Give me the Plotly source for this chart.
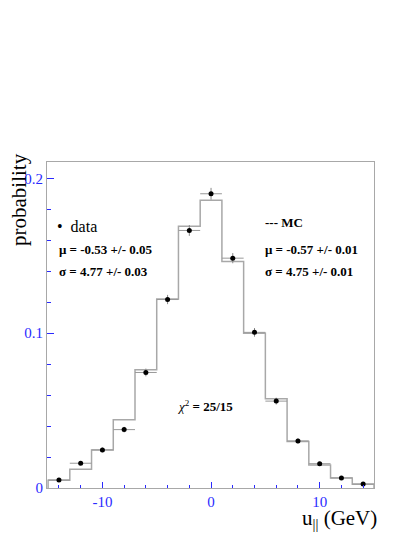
import plotly.graph_objects as go

bin_centers = [-14, -12, -10, -8, -6, -4, -2, 0, 2, 4, 6, 8, 10, 12, 14]
data_vals = [0.0052, 0.0160, 0.0246, 0.0377, 0.0746, 0.1217, 0.1663, 0.1900,
             0.1484, 0.1005, 0.0561, 0.0304, 0.0157, 0.0065, 0.0026]
data_errs = [0.0008, 0.0012, 0.0015, 0.0018, 0.0025, 0.0030, 0.0035, 0.0038,
             0.0033, 0.0028, 0.0022, 0.0016, 0.0012, 0.0008, 0.0005]
mc_vals = [0.0050, 0.0121, 0.0246, 0.0440, 0.0764, 0.1220, 0.1690, 0.1858,
           0.1463, 0.1000, 0.0576, 0.0300, 0.0149, 0.0065, 0.0024]
bin_width = 2

FONT = "Liberation Serif, Times New Roman, serif"
BLUE = "#2a2aff"
GRAY = "#a8a8a8"

# page offset of the figure inside the html body
OFF = 8
W, H = 415, 537
L, R, T, B = 47 - OFF, W - 374 + OFF, 162 - OFF, H - 488 + OFF

fig = go.Figure()

edges = [c - bin_width / 2 for c in bin_centers] + [bin_centers[-1] + bin_width / 2]
hx, hy = [edges[0]], [0]
for i, v in enumerate(mc_vals):
    hx += [edges[i], edges[i + 1]]
    hy += [v, v]
hx.append(edges[-1]); hy.append(0)
fig.add_trace(go.Scatter(x=hx, y=hy, mode="lines", line=dict(color=GRAY, width=1.5),
                         hoverinfo="skip", showlegend=False))

fig.add_trace(go.Scatter(
    x=bin_centers, y=data_vals, mode="markers",
    marker=dict(color="black", size=5),
    error_y=dict(type="data", array=data_errs, color="#888888", thickness=1, width=0),
    error_x=dict(type="constant", value=bin_width / 2, color="#999999", thickness=1, width=0),
    showlegend=False))

fig.update_layout(
    width=W, height=H,
    margin=dict(l=L, r=R, t=T, b=B),
    paper_bgcolor="white", plot_bgcolor="white",
    font=dict(family=FONT, color="black"),
    xaxis=dict(range=[-15.1, 15.0], showgrid=False, zeroline=False,
               showline=True, linecolor=GRAY, linewidth=1, mirror=True,
               tickmode="array", tickvals=[-10, 0, 10], ticktext=["-10", "0", "10"],
               ticks="inside", ticklen=6, tickcolor=BLUE, tickwidth=1,
               minor=dict(tickmode="array", tickvals=[-14, -12, -8, -6, -4, -2, 2, 4, 6, 8, 12, 14],
                          ticks="inside", ticklen=3, tickcolor=BLUE),
               tickfont=dict(family=FONT, size=15, color=BLUE)),
    yaxis=dict(range=[0, 0.2105], showgrid=False, zeroline=False,
               showline=True, linecolor=GRAY, linewidth=1, mirror=True,
               tickmode="array", tickvals=[0, 0.1, 0.2], ticktext=["0", "0.1", "0.2"],
               ticks="inside", ticklen=7, tickcolor=BLUE, tickwidth=1,
               minor=dict(tickmode="array",
                          tickvals=[0.02, 0.04, 0.06, 0.08, 0.12, 0.14, 0.16, 0.18],
                          ticks="inside", ticklen=4, tickcolor=BLUE),
               tickfont=dict(family=FONT, size=15, color=BLUE)),
)

def px(xp):
    return (xp - OFF - L) / (W - L - R)

def py(yp):
    return (H - B - (yp - OFF)) / (H - T - B)

def ann(text, x, y, size=13, xanchor="left", yanchor="middle", **kw):
    fig.add_annotation(text=text, x=px(x), y=py(y), xref="paper", yref="paper",
                       showarrow=False, xanchor=xanchor, yanchor=yanchor,
                       font=dict(family=FONT, size=size, color="black"), **kw)

ann("•  data", 55, 226, size=16)
ann("<b>μ = -0.53 +/- 0.05</b>", 57, 249, size=13)
ann("<b>σ = 4.77 +/- 0.03</b>", 57, 271, size=13)
ann("<b>--- MC</b>", 263, 222, size=13)
ann("<b>μ = -0.57 +/- 0.01</b>", 263, 249, size=13)
ann("<b>σ = 4.75 +/- 0.01</b>", 263, 271, size=13)
ann("<i>χ</i><sup>2</sup><b> = 25/15</b>", 175, 406, size=13)

ann("probability", 19, 200, size=21, xanchor="center", textangle=-90)
ann("u<sub>||</sub> (GeV)", 300, 519, size=21)

fig.write_html("out.html")
